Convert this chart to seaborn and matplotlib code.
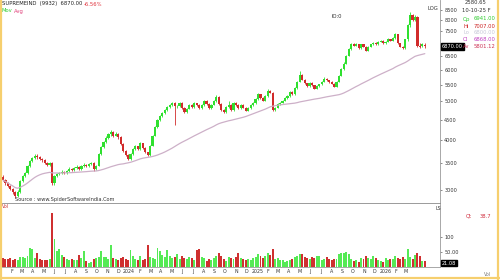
import numpy as np
import pandas as pd
import matplotlib
matplotlib.use("Agg")
import matplotlib.pyplot as plt
import seaborn as sns

sns.set_theme(style="white")
plt.rcParams["font.family"] = ["DejaVu Sans"]

# ---------------- data (weekly candles) ----------------
opens = [3230, 3170, 3120, 3060, 3010, 2960, 2890, 2960, 3150, 3240,
         3310, 3430, 3540, 3600, 3650, 3620, 3590, 3560, 3500, 3460,
         3500, 3110, 3240, 3290, 3300, 3330, 3310, 3350, 3380, 3360,
         3400, 3420, 3390, 3430, 3460, 3440, 3480, 3500, 3380, 3440,
         3680, 3830, 3940, 4050, 4130, 4180, 4100, 4150, 4060, 3900,
         3760, 3660, 3590, 3680, 3800, 3850, 3790, 3920, 3820, 3720,
         3660, 3860, 4100, 4300, 4480, 4600, 4680, 4750, 4840, 4890,
         4950, 4860, 4870, 4960, 4810, 4700, 4790, 4890, 4840, 4940,
         4890, 4800, 4890, 5010, 4920, 4800, 4900, 5000, 5140, 4920,
         4750, 4700, 4840, 4900, 4760, 4960, 4900, 4800, 4900, 4820,
         4740, 4800, 4880, 4950, 5060, 5200, 5100, 5020, 5150, 5320,
         5260, 4760, 4820, 4910, 4960, 5020, 5100, 5160, 5290, 5200,
         5400, 5600, 5820, 5660, 5550, 5460, 5560, 5480, 5380, 5450,
         5510, 5600, 5700, 5650, 5590, 5540, 5440, 5600, 5800, 6020,
         6220, 6500, 6760, 6960, 6900, 6960, 6800, 6950, 6850, 6700,
         6850, 6950, 7010, 6950, 7050, 7100, 7000, 7060, 7150, 7100,
         7200, 7360, 7000, 6860, 6800, 7150, 7750, 8250, 8000, 8150,
         6900, 6900, 6941]
closes = [3170, 3120, 3060, 3010, 2960, 2890, 2960, 3150, 3240, 3310,
          3430, 3540, 3600, 3650, 3620, 3590, 3560, 3500, 3460, 3490,
          3110, 3240, 3290, 3300, 3330, 3310, 3350, 3380, 3360, 3400,
          3420, 3390, 3430, 3460, 3440, 3480, 3500, 3380, 3440, 3680,
          3830, 3940, 4050, 4130, 4180, 4100, 4150, 4060, 3900, 3760,
          3660, 3590, 3680, 3800, 3850, 3790, 3920, 3820, 3720, 3660,
          3860, 4100, 4300, 4480, 4600, 4680, 4750, 4840, 4890, 4950,
          4860, 4870, 4960, 4810, 4700, 4790, 4890, 4840, 4940, 4890,
          4800, 4890, 5010, 4920, 4800, 4900, 5000, 5140, 4920, 4750,
          4700, 4840, 4900, 4760, 4960, 4900, 4800, 4900, 4820, 4740,
          4800, 4880, 4950, 5060, 5200, 5100, 5020, 5150, 5320, 5260,
          4760, 4820, 4910, 4960, 5020, 5100, 5160, 5290, 5200, 5400,
          5600, 5820, 5660, 5550, 5460, 5560, 5480, 5380, 5450, 5510,
          5600, 5700, 5650, 5590, 5540, 5440, 5600, 5800, 6020, 6220,
          6500, 6760, 6960, 6900, 6960, 6800, 6950, 6850, 6700, 6850,
          6950, 7010, 6950, 7050, 7100, 7000, 7060, 7150, 7100, 7200,
          7360, 7000, 6860, 6800, 7150, 7750, 8250, 8000, 8150, 6900,
          6850, 6960, 6868]
highs = [3260, 3190, 3140, 3080, 3030, 2980, 2990, 3170, 3270, 3330,
         3450, 3570, 3630, 3690, 3680, 3640, 3610, 3580, 3520, 3520,
         3520, 3260, 3310, 3330, 3360, 3350, 3370, 3410, 3400, 3420,
         3450, 3440, 3450, 3490, 3480, 3500, 3530, 3520, 3460, 3700,
         3850, 3970, 4080, 4170, 4230, 4200, 4180, 4170, 4080, 3920,
         3780, 3690, 3700, 3820, 3880, 3870, 3940, 3930, 3840, 3740,
         3880, 4120, 4330, 4510, 4630, 4710, 4780, 4870, 4920, 4990,
         4970, 4900, 4990, 4980, 4830, 4820, 4920, 4910, 4970, 4960,
         4910, 4920, 5040, 5030, 4940, 4930, 5030, 5180, 5160, 4940,
         4780, 4870, 5000, 4920, 4990, 4980, 4920, 4930, 4920, 4840,
         4830, 4910, 4980, 5090, 5240, 5220, 5120, 5180, 5360, 5340,
         5280, 4850, 4940, 4990, 5050, 5130, 5190, 5320, 5310, 5430,
         5630, 5960, 5840, 5680, 5570, 5590, 5580, 5500, 5480, 5540,
         5630, 5740, 5720, 5670, 5610, 5560, 5630, 5830, 6050, 6260,
         6540, 6800, 7000, 7000, 7000, 6980, 6980, 6970, 6870, 6880,
         6980, 7050, 7030, 7080, 7140, 7120, 7090, 7190, 7170, 7240,
         7420, 7380, 7020, 6880, 7180, 7800, 8400, 8300, 8250, 8200,
         7000, 7000, 7007]
lows = [3150, 3090, 3040, 2990, 2930, 2860, 2870, 2950, 3130, 3220,
        3290, 3410, 3520, 3580, 3590, 3560, 3530, 3480, 3430, 3440,
        3090, 3090, 3220, 3270, 3280, 3290, 3290, 3330, 3340, 3340,
        3380, 3370, 3370, 3410, 3420, 3420, 3460, 3350, 3360, 3430,
        3660, 3810, 3920, 4020, 4100, 4070, 4080, 4030, 3880, 3740,
        3640, 3570, 3570, 3660, 3780, 3770, 3770, 3800, 3700, 3640,
        3650, 3850, 4080, 4280, 4460, 4570, 4650, 4720, 4810, 4860,
        4350, 4820, 4840, 4790, 4670, 4680, 4770, 4810, 4820, 4860,
        4780, 4780, 4870, 4900, 4780, 4780, 4880, 4980, 4900, 4730,
        4670, 4680, 4820, 4740, 4740, 4870, 4780, 4780, 4800, 4720,
        4720, 4780, 4860, 4930, 5040, 5080, 5000, 5000, 5130, 5240,
        4720, 4740, 4800, 4890, 4940, 5000, 5080, 5140, 5180, 5180,
        5380, 5580, 5640, 5530, 5440, 5440, 5460, 5360, 5360, 5430,
        5490, 5580, 5630, 5570, 5520, 5420, 5420, 5580, 5780, 6000,
        6200, 6480, 6740, 6870, 6880, 6780, 6780, 6830, 6680, 6680,
        6830, 6930, 6930, 6930, 7030, 6980, 6980, 7040, 7080, 7080,
        7180, 6980, 6840, 6760, 6780, 7100, 7700, 7950, 7950, 6850,
        6800, 6860, 6800]
volume = [30, 28, 26, 31, 25, 27, 24, 33, 35, 30,
          36, 65, 60, 30, 48, 26, 24, 25, 22, 27,
          180, 95, 52, 60, 40, 35, 28, 24, 26, 22,
          25, 40, 30, 52, 20, 15, 18, 28, 30, 35,
          52, 34, 32, 28, 72, 30, 26, 22, 30, 35,
          26, 24, 57, 38, 26, 24, 36, 22, 26, 72,
          32, 30, 28, 63, 52, 40, 34, 57, 36, 30,
          32, 42, 28, 36, 30, 26, 34, 30, 24, 57,
          60, 34, 30, 20, 26, 24, 30, 36, 48, 38,
          26, 20, 32, 30, 28, 34, 47, 30, 26, 22,
          26, 22, 30, 32, 42, 36, 30, 36, 47, 40,
          60, 26, 30, 24, 22, 18, 20, 24, 28, 32,
          36, 42, 42, 32, 30, 26, 34, 30, 36, 36,
          24, 28, 32, 26, 24, 28, 26, 42, 46, 48,
          50, 44, 28, 20, 22, 18, 30, 26, 36, 30,
          26, 36, 30, 24, 20, 16, 30, 22, 26, 28,
          36, 30, 26, 34, 28, 60, 32, 26, 40, 48,
          36, 20, 21]
first_week = "2023-01-06"
price_ticks = [3000, 3500, 4000, 4500, 5000, 5500, 6000, 6500, 7500, 8000, 8500]
vol_ticks = [50, 100]
vol_tick_labels = ["50.00", "100"]
ma_window = 50

n = len(closes)
assert len(opens) == n == len(highs) == len(lows) == len(volume), (len(opens), n, len(highs), len(lows), len(volume))

df = pd.DataFrame({"week": np.arange(n), "open": opens, "high": highs, "low": lows,
                   "close": closes, "volume": volume})
df["dir"] = np.where(df["close"] >= df["open"], "up", "down")
df["ma"] = df["close"].rolling(ma_window, min_periods=1).mean()

UP, DOWN = "#2fe02f", "#d12b2b"
VUP, VDOWN = "#55ea55", "#cf3030"
pal = {"up": UP, "down": DOWN}

# ---------------- figure ----------------
W, H = 500, 280
fig = plt.figure(figsize=(5, 2.8), dpi=100)
fig.patch.set_facecolor("white")

def fx(x):
    return x / W

def fy(y):
    return 1 - y / H

ax_p = fig.add_axes([fx(2), fy(203), 438 / W, 203 / H])
ax_v = fig.add_axes([fx(2), fy(267), 438 / W, 63 / H])

xlim = (-0.4, 178.2)

# candles
body_bot = df[["open", "close"]].min(axis=1)
body_h = (df["open"] - df["close"]).abs().clip(lower=10)
colors = df["dir"].map(pal)
ax_p.vlines(df["week"], df["low"], df["high"], colors=colors, linewidth=0.6)
ax_p.bar(df["week"], body_h, bottom=body_bot, width=0.88, color=colors, linewidth=0)
sns.lineplot(x=df["week"], y=df["ma"], ax=ax_p, color="#cdb0c8", linewidth=0.9)
ax_p.set_yscale("log")
ax_p.set_ylim(2777, 8980)
ax_p.set_xlim(*xlim)
ax_p.yaxis.tick_right()
ax_p.yaxis.set_minor_locator(matplotlib.ticker.NullLocator())
ax_p.set_yticks(price_ticks)
ax_p.set_yticklabels([str(t) for t in price_ticks])
ax_p.tick_params(axis="y", labelsize=3.6, length=1.5, width=0.4, pad=1.5, colors="#333333")
ax_p.set_xticks([])
ax_p.set_xlabel("")
ax_p.set_ylabel("")
for s in ["left", "top"]:
    ax_p.spines[s].set_visible(False)
ax_p.spines["right"].set_color("#9a9a9a")
ax_p.spines["right"].set_linewidth(0.6)
ax_p.spines["bottom"].set_color("#8a8a8a")
ax_p.spines["bottom"].set_linewidth(0.6)

# current price box
ax_p.text(1.004, df["close"].iloc[-1], "6870.00", transform=ax_p.get_yaxis_transform(),
          fontsize=3.6, color="white", va="center", ha="left",
          bbox=dict(boxstyle="square,pad=0.15", fc="black", ec="black"))

# volume
vcol = {"up": VUP, "down": VDOWN}
sns.barplot(data=df, x="week", y="volume", hue="dir", palette=vcol, native_scale=True,
            dodge=False, legend=False, errorbar=None, saturation=1, width=0.8,
            linewidth=0, ax=ax_v)
ax_v.set_xlim(*xlim)
ax_v.set_ylim(0, 210)
ax_v.yaxis.tick_right()
ax_v.set_yticks(vol_ticks)
ax_v.set_yticklabels(vol_tick_labels)
ax_v.tick_params(axis="y", labelsize=3.6, length=1.5, width=0.4, pad=1.5, colors="#333333")
ax_v.set_xlabel("")
ax_v.set_ylabel("")
for s in ["left", "top"]:
    ax_v.spines[s].set_visible(False)
for s in ["right", "bottom"]:
    ax_v.spines[s].set_color("#9a9a9a")
    ax_v.spines[s].set_linewidth(0.6)

months = pd.date_range("2023-02-01", "2026-03-01", freq="MS")
start = pd.Timestamp(first_week)
mpos = [(m - start).days / 7 for m in months]
mlab = [str(m.year) if m.month == 1 else m.strftime("%b")[0] for m in months]
ax_v.set_xticks(mpos)
ax_v.set_xticklabels(mlab)
ax_v.tick_params(axis="x", labelsize=3.4, length=0, pad=1.2, colors="#333333")

ax_v.text(1.004, 0.06, "21.08", transform=ax_v.transAxes, fontsize=3.6, color="white",
          va="center", ha="left", bbox=dict(boxstyle="square,pad=0.15", fc="black", ec="black"))

# ---------------- texts ----------------
fs = 3.8
fig.text(fx(2), fy(4), "SUPREMEIND  (9932)  6870.00", fontsize=fs, color="#222222", va="center")
fig.text(fx(84), fy(4), "-6.56%", fontsize=fs, color="#e0303a", va="center")
fig.text(fx(2), fy(11), "Mov", fontsize=fs, color="#33cc33", va="center")
fig.text(fx(13.5), fy(11), "Avg", fontsize=fs, color="#e0407a", va="center")
fig.text(fx(332), fy(16), "IO:0", fontsize=fs, color="#333333", va="center")
fig.text(fx(428), fy(9), "LOG", fontsize=fs, color="#333333", va="center")
fig.text(fx(15), fy(200), "Source : www.SpiderSoftwareIndia.Com", fontsize=3.6, color="#333333", va="center")
fig.text(fx(2), fy(207), "Vol", fontsize=3.4, color="#cc3333", va="center")
fig.text(fx(436), fy(208), "LS", fontsize=3.4, color="#333333", va="center")

fig.text(fx(465), fy(3), "2580.65", fontsize=fs, color="#333333", va="center")
fig.text(fx(462), fy(11), "10-10-25 F", fontsize=fs, color="#333333", va="center")
legend_rows = [("Op", "6941.00", "#2fcc2f"), ("Hi", "7007.00", "#cc2222"),
               ("Lo", "6800.00", "#c8c8d8"), ("Cl", "6868.00", "#c040c0"),
               ("Av", "5801.12", "#cc3355")]
for i, (k, v, c) in enumerate(legend_rows):
    yy = 19 + i * 7
    fig.text(fx(463), fy(yy), k, fontsize=fs, color=c, va="center")
    fig.text(fx(474), fy(yy), v, fontsize=fs, color=c, va="center")
fig.text(fx(466), fy(216), "Qt", fontsize=fs, color="#d03040", va="center")
fig.text(fx(480), fy(216), "38.7", fontsize=fs, color="#d03040", va="center")
fig.text(fx(484), fy(274), "Vol", fontsize=3.4, color="#777777", va="center")

# yellow frame
ycol = "#f6cf6e"
fig.add_artist(plt.Line2D([fx(0.8), fx(0.8)], [0, 1], transform=fig.transFigure, color=ycol, linewidth=1.6))
fig.add_artist(plt.Line2D([fx(497.5), fx(497.5)], [0, 1], transform=fig.transFigure, color=ycol, linewidth=1.6))
fig.add_artist(plt.Line2D([0, 1], [fy(278), fy(278)], transform=fig.transFigure, color=ycol, linewidth=1.6))

fig.savefig("out.png", dpi=100)
